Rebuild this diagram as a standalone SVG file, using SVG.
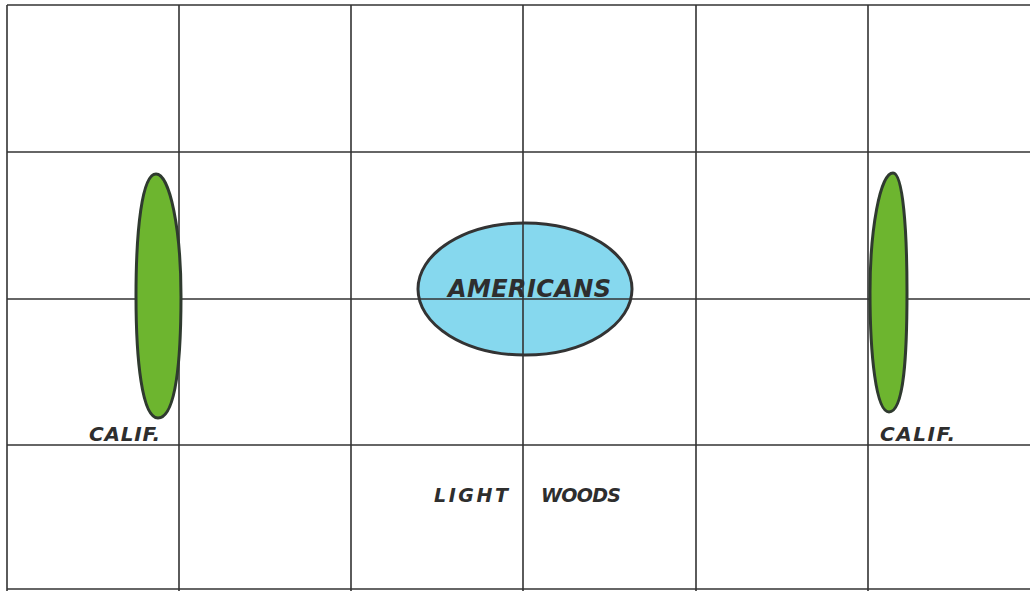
<svg xmlns="http://www.w3.org/2000/svg" width="1030" height="591" viewBox="0 0 1030 591">
<style>
.grid line{stroke:#333;stroke-width:1.6}
.zone{stroke:#2f3a2f;stroke-width:3}
.green{fill:#6db52f}
.blue{fill:#86d8ee;stroke:#333;stroke-width:3}
.lbl{font-family:"DejaVu Sans",sans-serif;fill:#2e2e2e;font-style:italic;font-weight:bold}
</style>
<rect width="1030" height="591" fill="#ffffff"/>
<g id="connectors" class="grid">
<line x1="7" y1="5" x2="1030" y2="5"/>
<line x1="7" y1="152" x2="1030" y2="152"/>
<line x1="7" y1="299" x2="1030" y2="299"/>
<line x1="7" y1="445" x2="1030" y2="445"/>
<line x1="7" y1="589" x2="1030" y2="589"/>
<line x1="7" y1="5" x2="7" y2="591"/>
<line x1="179" y1="5" x2="179" y2="591"/>
<line x1="351" y1="5" x2="351" y2="591"/>
<line x1="523" y1="5" x2="523" y2="591"/>
<line x1="696" y1="5" x2="696" y2="591"/>
<line x1="868" y1="5" x2="868" y2="591"/>
</g>
<g id="calif-left">
<path class="green zone" d="M156,174 C170,174 181,230 181,296 C181,360 176,418 158,418 C142,418 136,360 136,296 C136,230 142,174 156,174 Z"/>
<text class="lbl" x="89" y="441" font-size="20" textLength="71" lengthAdjust="spacing">CALIF.</text>
</g>
<g id="calif-right">
<path class="green zone" d="M893,173 C903,173 907,230 907,292 C907,355 904,412 889,412 C876,412 870,355 870,292 C870,230 880,173 893,173 Z"/>
<text class="lbl" x="880" y="441" font-size="20" textLength="75" lengthAdjust="spacing">CALIF.</text>
</g>
<g id="americans">
<ellipse class="blue" cx="525" cy="289" rx="107" ry="66"/>
<line x1="418" y1="299" x2="632" y2="299" stroke="#333" stroke-width="1.6"/>
<line x1="523" y1="223" x2="523" y2="355" stroke="#333" stroke-width="1.6"/>
<text class="lbl" x="448" y="297" font-size="24" textLength="163" lengthAdjust="spacing">AMERICANS</text>
</g>
<g id="light-woods">
<text class="lbl" x="434" y="502" font-size="19" textLength="74" lengthAdjust="spacing">LIGHT</text>
<text class="lbl" x="541" y="502" font-size="19" textLength="80" lengthAdjust="spacing">WOODS</text>
</g>
</svg>
